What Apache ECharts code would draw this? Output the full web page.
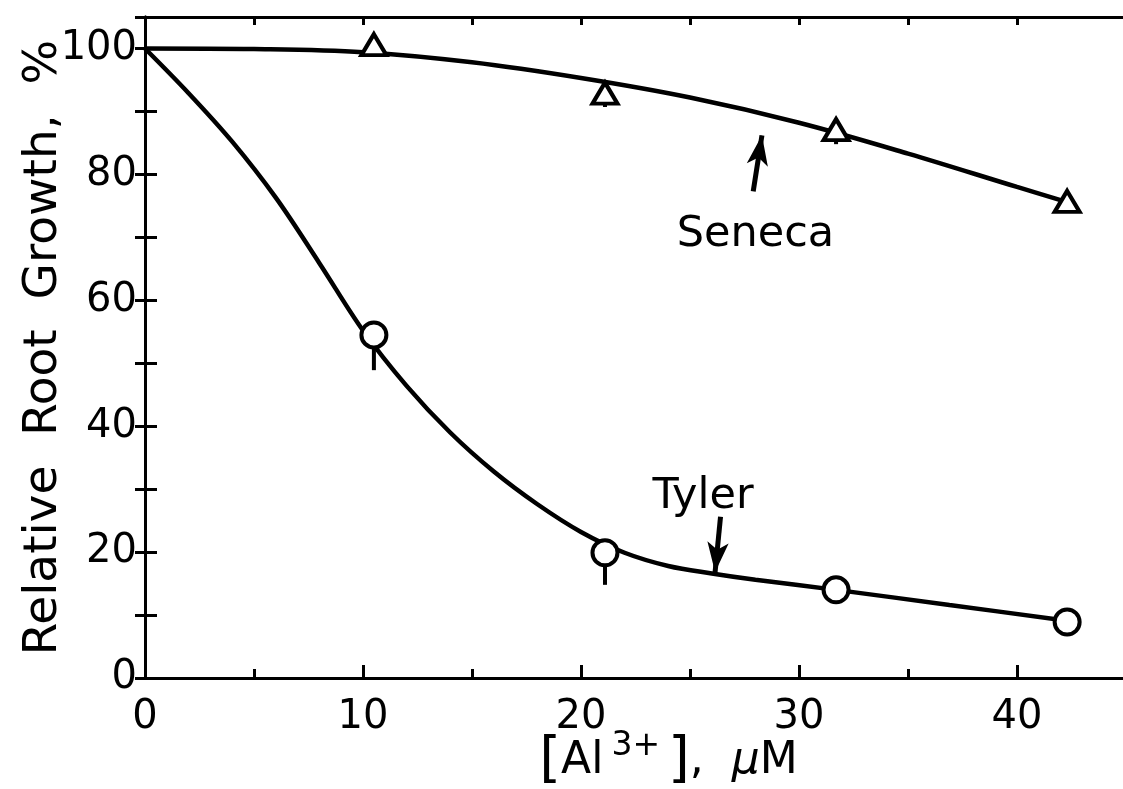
<!DOCTYPE html>
<html>
<head>
<meta charset="utf-8">
<script src="https://cdn.jsdelivr.net/npm/echarts@6/dist/echarts.min.js"></script>
<style>
  html, body { margin: 0; padding: 0; background: #fff; }
  #chart { width: 1123px; height: 789px; }
</style>
</head>
<body>
<div id="chart"></div>
<script>
// Measured points: Al3+ concentration (uM) vs relative root growth (%)
const concentrations = [10.5, 21.1, 31.7, 42.3];
const senecaGrowth = [100.6, 92.9, 87.1, 75.7];
const senecaLow = [null, 90.7, 84.8, null];
const tylerGrowth = [54.5, 19.9, 14.0, 8.9];
const tylerLow = [48.9, 14.8, null, null];

// Fitted response curves
const senecaCurveX = [0, 5, 10, 15, 20, 25, 30, 35, 40, 42.3];
const senecaCurveY = [100, 99.9, 99.4, 97.8, 95.3, 92.2, 88.2, 83.3, 78.0, 75.6];
const tylerCurveX = [0, 2, 4, 6, 8, 10, 12, 14, 16, 18, 20, 22, 24, 26, 28, 31.7, 36.9, 42.3];
const tylerCurveY = [100, 92.9, 85.2, 76.3, 65.9, 55.2, 46.4, 39.0, 32.8, 27.6, 23.2, 19.9, 17.8, 16.6, 15.6, 14.0, 11.6, 9.1];

// Cultivar labels and their pointer arrows (data coordinates)
const cultivarNames = ['Seneca', 'Tyler'];
const cultivarLabelX = [28.0, 25.6];
const cultivarLabelY = [70.4, 28.7];
const arrowTail = [[27.9, 77.3], [26.4, 25.6]];
const arrowHead = [[28.3, 86.2], [26.15, 16.8]];

const FONT = 'DejaVu Sans';
const zip = (xs, ys) => xs.map((x, i) => [x, ys[i]]);

const chart = echarts.init(document.getElementById('chart'));

const errorBars = [];
concentrations.forEach((x, i) => {
  if (senecaLow[i] != null) errorBars.push([x, senecaGrowth[i], senecaLow[i]]);
  if (tylerLow[i] != null) errorBars.push([x, tylerGrowth[i], tylerLow[i]]);
});

const lineBase = { color: '#000', width: 3 };

chart.setOption({
  animation: false,
  backgroundColor: '#fff',
  grid: { left: 145, top: 17, width: 981, height: 661, containLabel: false, outerBoundsMode: 'none' },
  xAxis: [
    {
      type: 'value', position: 'bottom', min: 0, max: 45, interval: 10,
      name: '{b|[}{a|Al}{s|3+}{b|]}{a|,  }{m|μ}{a|M}',
      nameLocation: 'middle', nameGap: 52, nameMoveOverlap: false,
      nameTextStyle: {
        padding: [0, 0, 0, 66],
        rich: {
          a: { fontFamily: FONT, fontSize: 44, color: '#000' },
          b: { fontFamily: FONT, fontSize: 56, color: '#000' },
          s: { fontFamily: FONT, fontSize: 33, color: '#000', padding: [0, 8, 30, 8] },
          m: { fontFamily: FONT, fontSize: 44, color: '#000', fontStyle: 'italic' }
        }
      },
      axisLine: { lineStyle: lineBase },
      axisTick: { inside: true, length: 13, lineStyle: lineBase },
      axisLabel: { fontFamily: FONT, fontSize: 40, color: '#000', margin: 20, showMaxLabel: false },
      splitLine: { show: false }
    },
    {
      type: 'value', position: 'bottom', min: 0, max: 45, interval: 5,
      axisLine: { show: false },
      axisTick: { inside: true, length: 9, lineStyle: lineBase },
      axisLabel: { show: false },
      splitLine: { show: false }
    },
    {
      type: 'value', position: 'top', min: 0, max: 45, interval: 5,
      axisLine: { lineStyle: lineBase },
      axisTick: { inside: true, length: 8, lineStyle: lineBase },
      axisLabel: { show: false },
      splitLine: { show: false }
    }
  ],
  yAxis: [
    {
      type: 'value', position: 'left', min: 0, max: 105, interval: 10,
      name: 'Relative  Root  Growth,  %',
      nameLocation: 'middle', nameGap: 78, nameRotate: 90, nameMoveOverlap: false,
      nameTextStyle: { fontFamily: FONT, fontSize: 47, color: '#000' },
      axisLine: { lineStyle: lineBase },
      axisTick: { inside: true, length: 12, lineStyle: lineBase },
      axisLabel: {
        fontFamily: FONT, fontSize: 40, color: '#000', margin: 8, showMaxLabel: false,
        formatter: v => (v % 20 === 0 ? String(v) : '')
      },
      splitLine: { show: false }
    },
    {
      type: 'value', position: 'right', min: 0, max: 105, interval: 10,
      axisLine: { lineStyle: lineBase },
      axisTick: { inside: true, length: 10, lineStyle: lineBase },
      axisLabel: { show: false },
      splitLine: { show: false }
    }
  ],
  series: [
    {
      name: 'Seneca fit', type: 'line', smooth: 0.35, showSymbol: false, z: 2,
      data: zip(senecaCurveX, senecaCurveY),
      lineStyle: { color: '#000', width: 4.5 }
    },
    {
      name: 'Tyler fit', type: 'line', smooth: 0.35, showSymbol: false, z: 2,
      data: zip(tylerCurveX, tylerCurveY),
      lineStyle: { color: '#000', width: 4.5 }
    },
    {
      name: 'error', type: 'custom', z: 3,
      data: errorBars,
      renderItem: (params, api) => {
        const top = api.coord([api.value(0), api.value(1)]);
        const bottom = api.coord([api.value(0), api.value(2)]);
        return {
          type: 'line',
          shape: { x1: top[0], y1: top[1], x2: bottom[0], y2: bottom[1] },
          style: { stroke: '#000', lineWidth: 4 }
        };
      }
    },
    {
      name: 'Seneca', type: 'scatter', z: 5,
      symbol: 'triangle', symbolSize: [25, 21],
      data: zip(concentrations, senecaGrowth),
      itemStyle: { color: '#fff', borderColor: '#000', borderWidth: 4, opacity: 1 }
    },
    {
      name: 'Tyler', type: 'scatter', z: 5,
      symbol: 'circle', symbolSize: 25,
      data: zip(concentrations, tylerGrowth),
      itemStyle: { color: '#fff', borderColor: '#000', borderWidth: 4, opacity: 1 }
    },
    {
      name: 'labels', type: 'scatter', z: 6, symbolSize: 1, silent: true,
      itemStyle: { opacity: 1, color: 'rgba(0,0,0,0)' },
      data: cultivarNames.map((n, i) => ({ name: n, value: [cultivarLabelX[i], cultivarLabelY[i]] })),
      label: {
        show: true, position: 'inside', formatter: p => p.name,
        fontFamily: FONT, fontSize: 43, color: '#000', opacity: 1
      },
      markLine: {
        silent: true, symbol: ['none', 'arrow'], symbolSize: [16, 30],
        label: { show: false },
        lineStyle: { color: '#000', width: 5, type: 'solid', opacity: 1 },
        data: arrowTail.map((t, i) => [{ coord: t }, { coord: arrowHead[i] }])
      }
    }
  ]
});
</script>
</body>
</html>
